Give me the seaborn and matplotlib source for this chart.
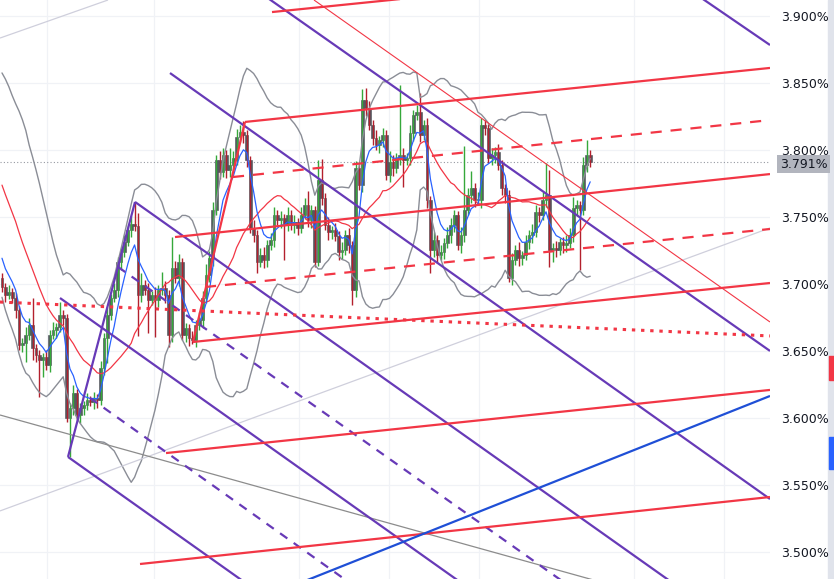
import numpy as np
import pandas as pd
import seaborn as sns
import matplotlib.pyplot as plt
from matplotlib.patches import Rectangle

# yield candles (percent); bars before the first visible one feed the bands only
warmup_close = [3.8336, 3.8261, 3.8238, 3.8149, 3.8164, 3.8074, 3.8000, 3.8015, 3.7888, 3.7836,
                3.7776, 3.7701, 3.7627, 3.7515, 3.7440, 3.7328, 3.7216, 3.7164, 3.7045]

close = [3.6978, 3.6918, 3.6940, 3.6895, 3.6806, 3.6544, 3.6559, 3.6619, 3.6694, 3.6522,
         3.6470, 3.6433, 3.6455, 3.6396, 3.6619, 3.6657, 3.6679, 3.6769, 3.6746, 3.6001,
         3.6075, 3.6187, 3.6023, 3.6075, 3.6098, 3.6135, 3.6120, 3.6150, 3.6135, 3.6374,
         3.6597, 3.6769, 3.6895, 3.6955, 3.7164, 3.7239, 3.7314, 3.7403, 3.7448, 3.7433,
         3.6918, 3.6993, 3.6955, 3.6881, 3.6918, 3.6881, 3.6955, 3.6970, 3.6918, 3.6619,
         3.7120, 3.7045, 3.7164, 3.6619, 3.6672, 3.6597, 3.6582, 3.6694, 3.6732, 3.6895,
         3.7068, 3.7194, 3.7552, 3.7925, 3.7836, 3.7963, 3.7851, 3.7888, 3.7940, 3.8097,
         3.8134, 3.8112, 3.7925, 3.7418, 3.7366, 3.7164, 3.7217, 3.7179, 3.7291, 3.7329,
         3.7515, 3.7478, 3.7493, 3.7448, 3.7515, 3.7441, 3.7463, 3.7418, 3.7515, 3.7590,
         3.7478, 3.7552, 3.7164, 3.7776, 3.7642, 3.7441, 3.7388, 3.7403, 3.7358, 3.7239,
         3.7254, 3.7366, 3.7291, 3.6955, 3.7866, 3.7739, 3.8373, 3.8313, 3.8187, 3.8090,
         3.8037, 3.8075, 3.8112, 3.7813, 3.7910, 3.7866, 3.7940, 3.7963, 3.7925, 3.7940,
         3.8127, 3.8261, 3.8283, 3.8112, 3.8187, 3.7627, 3.7254, 3.7329, 3.7217, 3.7239,
         3.7306, 3.7366, 3.7441, 3.7515, 3.7291, 3.7366, 3.7552, 3.7664, 3.7716, 3.7627,
         3.7627, 3.8187, 3.8164, 3.7940, 3.7963, 3.7985, 3.7888, 3.7716, 3.7664, 3.7045,
         3.7179, 3.7254, 3.7194, 3.7217, 3.7314, 3.7366, 3.7388, 3.7537, 3.7515, 3.7627,
         3.7664, 3.7254, 3.7269, 3.7254, 3.7314, 3.7291, 3.7306, 3.7366, 3.7567, 3.7590,
         3.7552, 3.7888, 3.7963, 3.7910]

# wick lengths beyond the body, in thousandths of a point
wick_up = [4, 3, 5, 3, 4, 3, 4, 6, 5, 20,
           3, 4, 3, 5, 4, 6, 3, 10, 4, 3,
           4, 6, 3, 4, 3, 5, 3, 4, 3, 5,
           4, 6, 3, 5, 4, 3, 5, 4, 6, 16,
           10, 9, 4, 5, 3, 6, 4, 12, 5, 4,
           23, 5, 6, 3, 4, 3, 5, 4, 6, 5,
           8, 5, 6, 4, 7, 5, 4, 13, 5, 6,
           5, 8, 4, 3, 6, 4, 5, 6, 4, 5,
           6, 4, 5, 3, 6, 4, 5, 3, 6, 5,
           10, 4, 3, 15, 16, 4, 6, 3, 5, 4,
           6, 4, 5, 3, 5, 4, 8, 9, 5, 4,
           6, 3, 5, 4, 8, 5, 4, 52, 5, 4,
           6, 4, 5, 14, 4, 5, 3, 6, 4, 5,
           4, 6, 5, 4, 3, 6, 48, 5, 13, 4,
           6, 5, 4, 3, 5, 4, 6, 4, 3, 4,
           5, 4, 6, 3, 5, 4, 6, 5, 4, 6,
           24, 19, 4, 5, 3, 4, 6, 5, 8, 4,
           3, 6, 11, 4]
wick_dn = [4, 5, 3, 4, 6, 4, 5, 14, 4, 9,
           5, 28, 13, 4, 5, 3, 6, 4, 5, 3,
           29, 5, 4, 6, 5, 4, 3, 5, 6, 4,
           5, 19, 4, 3, 5, 6, 4, 3, 5, 4,
           31, 5, 4, 25, 4, 28, 5, 4, 6, 9,
           5, 4, 6, 4, 5, 6, 3, 5, 4, 6,
           4, 5, 6, 4, 5, 4, 6, 5, 4, 5,
           4, 6, 5, 4, 5, 8, 4, 6, 5, 4,
           5, 4, 6, 27, 5, 4, 6, 5, 4, 3,
           5, 6, 4, 3, 5, 4, 6, 5, 4, 6,
           5, 4, 6, 11, 5, 4, 5, 6, 4, 5,
           4, 6, 5, 4, 5, 6, 4, 5, 20, 4,
           5, 6, 4, 5, 4, 6, 17, 5, 6, 4,
           5, 4, 6, 5, 4, 6, 5, 4, 6, 5,
           4, 6, 5, 4, 5, 6, 4, 5, 6, 3,
           5, 4, 6, 5, 4, 5, 6, 4, 5, 4,
           5, 13, 9, 5, 4, 6, 5, 4, 5, 6,
           45, 4, 5, 4]

price_ticks = [3.50, 3.55, 3.60, 3.65, 3.70, 3.75, 3.80, 3.85, 3.90]
last_price = 3.791
grid_bars = [13.24, 44.71, 87.35, 113.82, 140.29, 185.88, 212.35]

# drawings: (bar0, price0, bar1, price1)
purple_solid = [(76.47, 3.9164, 225.88, 3.6500), (49.41, 3.8574, 225.88, 3.5395),
                (205.29, 3.9141, 225.88, 3.8783), (39.12, 3.7612, 225.88, 3.4254),
                (17.06, 3.6895, 225.88, 3.3134), (19.41, 3.5709, 225.88, 3.1992),
                (19.41, 3.5709, 39.12, 3.7612)]
purple_dashed = [(25.88, 3.6149, 225.88, 3.2537), (34.12, 3.7127, 225.88, 3.3686)]
red_solid = [(40.59, 3.4910, 225.88, 3.5410), (48.24, 3.5738, 225.88, 3.6209),
             (56.18, 3.6567, 225.88, 3.7007), (50.88, 3.7350, 225.88, 3.7820),
             (71.47, 3.8209, 225.88, 3.8612), (79.41, 3.9029, 117.06, 3.9126),
             (56.18, 3.6567, 71.47, 3.8209)]
red_dashed = [(67.94, 3.7798, 225.88, 3.8223), (59.71, 3.6977, 225.88, 3.7410)]
red_dotted = [(-0.59, 3.6865, 225.88, 3.6612)]
red_thin = [(91.76, 3.9119, 225.88, 3.6716)]
blue_lines = [(85.0, 3.4742, 225.88, 3.6164)]
grey_lines = [(-0.59, 3.6022, 200.0, 3.4607)]
light_lines = [(-0.59, 3.5306, 225.88, 3.7418), (-0.59, 3.8835, 31.18, 3.9119)]

sns.set_theme(style="white")
plt.rcParams['font.family'] = ['DejaVu Sans']

fig = plt.figure(figsize=(8.34, 5.79), dpi=100)
ax = fig.add_axes([0, 0, 770 / 834, 1])

n = len(close)
bars = np.arange(n)
opens = np.array([warmup_close[-1]] + close[:-1])
closes = np.array(close)
body_lo = np.minimum(opens, closes)
body_hi = np.maximum(opens, closes)
highs = body_hi + np.array(wick_up) / 1000
lows = body_lo - np.array(wick_dn) / 1000
wick_col = np.where(closes >= opens, '#35a83a', '#b3202d')

# grid
for p in price_ticks:
    ax.axhline(p, color='#f0f2f6', lw=0.9, zorder=0)
for b in grid_bars:
    ax.axvline(b, color='#f0f2f6', lw=0.9, zorder=0)
ax.axhline(last_price, color='#9598a1', lw=0.8, ls=(0, (1, 2)), zorder=1)

# candles
ax.bar(bars, np.maximum(body_hi - body_lo, 0.0008), bottom=body_lo, width=0.85,
       color='#54575f', edgecolor='#4a4d55', linewidth=0.4, zorder=2)
ax.vlines(bars, lows, highs, colors=wick_col, lw=1.0, zorder=3)

# bollinger bands and averages
s = pd.Series(warmup_close + close, index=np.arange(-len(warmup_close), n))
basis = s.rolling(20).mean()
sd = s.rolling(20).std(ddof=0)
fast = s.ewm(span=6, adjust=False).mean()
ind = pd.DataFrame({'bar': s.index, 'upper': basis + 2 * sd, 'lower': basis - 2 * sd,
                    'basis': basis, 'fast': fast}).dropna()
sns.lineplot(data=ind, x='bar', y='upper', ax=ax, color='#8a8d96', lw=1, zorder=4)
sns.lineplot(data=ind, x='bar', y='lower', ax=ax, color='#8a8d96', lw=1, zorder=4)
sns.lineplot(data=ind, x='bar', y='basis', ax=ax, color='#f23645', lw=0.9, zorder=4)
sns.lineplot(data=ind, x='bar', y='fast', ax=ax, color='#2962ff', lw=0.9, zorder=4)


def draw(lines, **kw):
    for x0, y0, x1, y1 in lines:
        ax.plot([x0, x1], [y0, y1], solid_capstyle='butt', dash_capstyle='butt', **kw)


draw(light_lines, color='#cfcfdc', lw=0.9, zorder=5)
draw(grey_lines, color='#8c8c8c', lw=0.9, zorder=5)
draw(red_thin, color='#f23645', lw=0.8, zorder=5)
draw(purple_solid, color='#673ab7', lw=1.6, zorder=6)
draw(purple_dashed, color='#673ab7', lw=1.6, ls=(0, (4, 3.5)), zorder=6)
draw(red_solid, color='#f23645', lw=1.6, zorder=6)
draw(red_dashed, color='#f23645', lw=1.6, ls=(0, (5, 4)), zorder=6)
draw(red_dotted, color='#f23645', lw=2.2, ls=(0, (1.1, 1.9)), zorder=6)
draw(blue_lines, color='#1f4fd6', lw=1.6, zorder=6)

ax.set_xlim(-0.588, 225.88)
ax.set_ylim(3.9119 - 579 / 1340, 3.9119)
ax.set_xticks([])
ax.yaxis.tick_right()
ax.set_yticks(price_ticks)
ax.set_yticklabels([f'{p:.3f}%' for p in price_ticks])
ax.tick_params(axis='y', length=0, pad=8, labelsize=9, labelcolor='#131722')
ax.set_xlabel('')
ax.set_ylabel('')
for sp in ax.spines.values():
    sp.set_visible(False)

ax.annotate(f'{last_price:.3f}%', xy=(1.0, last_price), xycoords=('axes fraction', 'data'),
            xytext=(7, -1.5), textcoords='offset points', ha='left', va='center',
            fontsize=9, color='#131722',
            bbox=dict(boxstyle='square,pad=0.18', fc='#b2b5be', ec='none'))

# right edge strip with clipped price tags
fig.add_artist(Rectangle((828 / 834, 0), 6 / 834, 1, transform=fig.transFigure,
                         color='#e0e3eb', zorder=0))
fig.add_artist(Rectangle((829 / 834, 1 - 380 / 579), 5 / 834, 24 / 579,
                         transform=fig.transFigure, color='#f23645'))
fig.add_artist(Rectangle((829 / 834, 1 - 469 / 579), 5 / 834, 32 / 579,
                         transform=fig.transFigure, color='#2962ff'))

fig.savefig('out.png', dpi=100)
